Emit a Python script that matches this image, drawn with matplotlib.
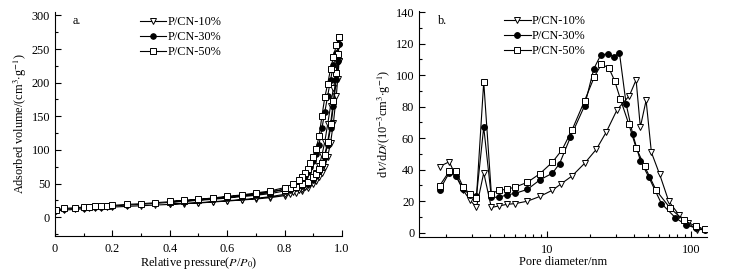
import matplotlib
matplotlib.use("Agg")
import matplotlib.pyplot as plt
from matplotlib.ticker import MultipleLocator, FixedLocator, FixedFormatter, LogLocator, NullFormatter

plt.rcParams["font.family"] = ["Liberation Serif", "DejaVu Serif"]
plt.rcParams["mathtext.fontset"] = "stix"
plt.rcParams["font.size"] = 8.8

labels = ["P/CN-10%", "P/CN-30%", "P/CN-50%"]

# panel a: N2 isotherms (adsorption + desorption branch)
p_ads = [0.005, 0.03, 0.07, 0.10, 0.12, 0.14, 0.16, 0.18, 0.20, 0.25, 0.30, 0.35,
         0.40, 0.45, 0.50, 0.55, 0.60, 0.65, 0.70, 0.75, 0.80, 0.82, 0.84, 0.86,
         0.88, 0.90, 0.91, 0.92, 0.93, 0.94, 0.95, 0.96, 0.97, 0.98, 0.985, 0.99]
p_des = [0.99, 0.98, 0.97, 0.96, 0.95, 0.94, 0.93, 0.92, 0.91, 0.90, 0.89, 0.88,
         0.87, 0.86, 0.85, 0.83, 0.80, 0.75, 0.70, 0.65, 0.60, 0.55, 0.50, 0.45, 0.40]

v_ads_10 = [9, 10.5, 11.5, 12.5, 13, 13.5, 14, 14.5, 15, 16, 17, 18, 19, 20, 21, 22.5,
            24, 25.5, 27, 29, 32, 34, 36, 39, 43, 50, 54, 59, 65, 74, 90, 110, 140,
            180, 205, 232]
v_des_10 = [232, 214, 192, 165, 138, 112, 92, 76, 66, 58, 52, 48, 45, 42, 40, 37, 34,
            30.5, 28, 26, 24.5, 23, 21.5, 20.5, 19.5]
v_ads_30 = [10, 12, 13, 14, 14.5, 15, 15.5, 16, 16.5, 18, 19, 20.5, 22, 23.5, 25, 26.5,
            28.5, 30.5, 32.5, 35, 39, 41, 43, 46, 50, 56, 61, 68, 77, 90, 108, 132,
            165, 205, 232, 258]
v_des_30 = [258, 244, 226, 204, 180, 156, 132, 108, 94, 83, 74, 67, 61, 56, 52, 47, 42,
            37, 34, 31.5, 29.5, 27.5, 25.5, 24, 22.5]
v_ads_50 = [11, 13, 14, 15, 15.5, 16, 16.5, 17, 17.5, 19, 20, 21.5, 23, 24.5, 26, 28,
            30, 32, 34.5, 37.5, 41, 43, 45.5, 49, 53, 59, 64, 71, 80, 93, 112, 138,
            172, 215, 242, 268]
v_des_50 = [268, 256, 238, 220, 198, 178, 150, 120, 102, 90, 81, 72, 66, 60, 55, 49, 44,
            39, 36, 33, 31, 28.5, 26.5, 25, 23.5]

# panel b: pore size distribution
d_10 = [1.79, 2.09, 2.33, 2.61, 2.90, 3.23, 3.63, 4.10, 4.62, 5.27, 6.02, 7.3, 8.9,
        10.9, 12.5, 14.9, 18.2, 22.0, 25.8, 30.6, 37.3, 41.5, 44.4, 48.7, 53.0, 60.5,
        69.9, 82.9, 95, 110, 124]
y_10 = [42, 45, 36, 27, 21, 16, 38, 16, 17, 18, 18.5, 20, 23, 27, 31, 36, 44, 53, 64,
        78, 87, 97, 67, 84, 51, 37, 20, 11, 6, 2, 2]
d_30 = [1.79, 2.09, 2.33, 2.61, 2.90, 3.23, 3.63, 4.10, 4.62, 5.27, 6.02, 7.3, 8.9,
        10.9, 12.2, 14.5, 18.2, 21.1, 23.5, 26.4, 29.0, 31.8, 35.4, 39.3, 44.4, 50.8,
        62.2, 77.8, 92.3, 108, 124]
y_30 = [27, 38, 36, 28, 24, 23, 67, 22.5, 22.5, 24, 25, 27.5, 33.5, 37.8, 43.8, 60.5,
        80.5, 104, 112.5, 113.7, 111.6, 114.1, 81.6, 62.7, 45.8, 35.3, 18.5, 9.5, 4.9,
        3, 1.7]
d_50 = [1.79, 2.09, 2.33, 2.61, 2.90, 3.23, 3.63, 4.10, 4.62, 5.27, 6.02, 7.3, 8.9,
        10.9, 12.7, 14.9, 18.2, 21.3, 23.8, 26.8, 29.5, 32.3, 36.9, 41.5, 47.6, 57.2,
        71.8, 88.9, 108, 125]
y_50 = [29.7, 38.9, 38.9, 29, 24.8, 22.1, 95.7, 24.8, 26.9, 27.6, 29, 32, 37.4, 44.8,
        52.6, 65.2, 83.7, 99, 106.8, 104.7, 96.3, 84.7, 69, 53.9, 42.1, 26.9, 15.4, 8.0,
        4, 2.1]

styles = [
    dict(marker="v", mfc="white", mec="black"),
    dict(marker="o", mfc="black", mec="black"),
    dict(marker="s", mfc="white", mec="black"),
]


def style_axes(ax):
    for side in ("top", "right"):
        ax.spines[side].set_visible(False)
    ax.tick_params(which="both", direction="in", top=False, right=False)
    ax.tick_params(which="major", length=4, width=0.8)
    ax.tick_params(which="minor", length=2.5, width=0.8)
    ax.tick_params(axis="x", which="both", pad=5)


fig = plt.figure(figsize=(7.5, 2.73), dpi=100)
ax1 = fig.add_axes([0.0733, 0.1355, 0.3827, 0.8205])
ax2 = fig.add_axes([0.5587, 0.132, 0.384, 0.8265])

# panel a
iso = [(v_ads_10, v_des_10), (v_ads_30, v_des_30), (v_ads_50, v_des_50)]
for (va, vd), st, lab in zip(iso, styles, labels):
    ax1.plot(p_ads + p_des, va + vd, color="black", lw=0.8, ms=4, mew=0.7,
             label=lab, **st)
ax1.set_xlim(0, 1.0)
ax1.set_ylim(-28, 305)
ax1.xaxis.set_major_locator(FixedLocator([0, 0.2, 0.4, 0.6, 0.8, 1.0]))
ax1.xaxis.set_major_formatter(FixedFormatter(["0", "0.2", "0.4", "0.6", "0.8", "1.0"]))
ax1.xaxis.set_minor_locator(MultipleLocator(0.1))
ax1.yaxis.set_major_locator(FixedLocator([0, 50, 100, 150, 200, 250, 300]))
ax1.yaxis.set_minor_locator(MultipleLocator(25))
ax1.set_xlabel(r"Relative pressure($P$/$P_0$)", labelpad=0)
ax1.set_ylabel(r"Adsorbed volume/(cm$^{3}$$\cdot$g$^{-1}$)", labelpad=2)
style_axes(ax1)
ax1.text(0.06, 0.985, "a.", transform=ax1.transAxes, ha="left", va="top")
ax1.legend(loc="upper left", bbox_to_anchor=(0.265, 1.02), frameon=False,
           numpoints=1, handlelength=2.2, handletextpad=0.1, labelspacing=0.25,
           borderpad=0.2)

# panel b
psd = [(d_10, y_10), (d_30, y_30), (d_50, y_50)]
for (dd, yy), st, lab in zip(psd, styles, labels):
    ax2.plot(dd, yy, color="black", lw=0.8, ms=4.2, mew=0.7, label=lab, **st)
ax2.set_xscale("log")
ax2.set_xlim(1.29, 129)
ax2.set_ylim(-2.7, 140.5)
ax2.xaxis.set_major_locator(FixedLocator([10, 100]))
ax2.xaxis.set_major_formatter(FixedFormatter(["10", "100"]))
ax2.xaxis.set_minor_locator(LogLocator(base=10, subs=range(2, 10)))
ax2.xaxis.set_minor_formatter(NullFormatter())
ax2.yaxis.set_major_locator(MultipleLocator(20))
ax2.yaxis.set_minor_locator(MultipleLocator(10))
ax2.set_xlabel("Pore diameter/nm", labelpad=0)
ax2.set_ylabel(r"d$V$/d$D$/(10$^{-3}$cm$^{3}$$\cdot$g$^{-1}$)", labelpad=2)
style_axes(ax2)
ax2.text(0.065, 0.985, "b.", transform=ax2.transAxes, ha="left", va="top")
ax2.legend(loc="upper left", bbox_to_anchor=(0.265, 1.02), frameon=False,
           numpoints=1, handlelength=2.2, handletextpad=0.1, labelspacing=0.25,
           borderpad=0.2)

fig.savefig("out.png", dpi=100)
